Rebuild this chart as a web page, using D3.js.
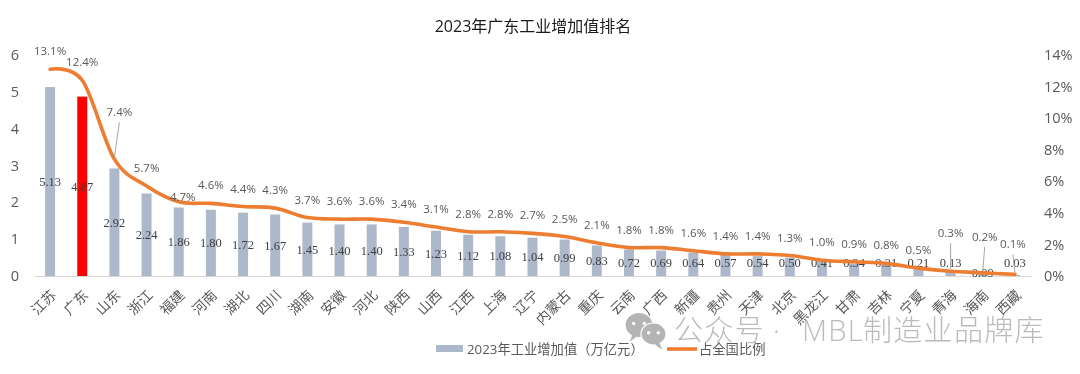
<!DOCTYPE html>
<html><head><meta charset="utf-8">
<script src="https://cdn.jsdelivr.net/npm/d3@7/dist/d3.min.js"></script>
<style>html,body{margin:0;padding:0;background:#fff}svg{display:block;filter:blur(0.35px)}
text{font-family:"Open Sans","Noto Sans CJK SC",sans-serif}</style></head>
<body><div id="c"></div>
<script>
const provinces=["江苏","广东","山东","浙江","福建","河南","湖北","四川","湖南","安徽","河北","陕西","山西","江西","上海","辽宁","内蒙古","重庆","云南","广西","新疆","贵州","天津","北京","黑龙江","甘肃","吉林","宁夏","青海","海南","西藏"];
const addedValue=[5.13,4.87,2.92,2.24,1.86,1.80,1.72,1.67,1.45,1.40,1.40,1.33,1.23,1.12,1.08,1.04,0.99,0.83,0.72,0.69,0.64,0.57,0.54,0.50,0.41,0.34,0.31,0.21,0.13,0.09,0.03];
const sharePct=[13.1,12.4,7.4,5.7,4.7,4.6,4.4,4.3,3.7,3.6,3.6,3.4,3.1,2.8,2.8,2.7,2.5,2.1,1.8,1.8,1.6,1.4,1.4,1.3,1.0,0.9,0.8,0.5,0.3,0.2,0.1];
const leftTicks=[0,1,2,3,4,5,6];
const rightTicks=[0,2,4,6,8,10,12,14];
const highlight="广东";
const shareNudges=new Map([["江苏",[0,-18]],["山东",[5,-47]],["福建",[4,-5]],["青海",[0,-38]],["海南",[2,-36]],["西藏",[-2,-30]]]);
const leaders=["山东","青海","海南","西藏"];

const W=1080,H=374;
const svg=d3.select("#c").append("svg").attr("width",W).attr("height",H);
const x=d3.scaleBand().domain(provinces).range([34,1031]);
const yL=d3.scaleLinear().domain([0,6]).range([276,55]);
const yR=d3.scaleLinear().domain([0,14]).range([276,55]);
const grey="#595959";

svg.append("text").attr("x",533).attr("y",32).attr("text-anchor","middle").attr("font-size",16).attr("fill","#1a1a1a").text("2023年广东工业增加值排名");

const axL=svg.append("g").attr("transform","translate(19,0)").call(d3.axisLeft(yL).tickValues(leftTicks).tickSize(0).tickPadding(0).tickFormat(d3.format("d")));
const axR=svg.append("g").attr("transform","translate(1044,0)").call(d3.axisRight(yR).tickValues(rightTicks).tickSize(0).tickPadding(0).tickFormat(d=>d+"%"));
[axL,axR].forEach(a=>{a.select(".domain").remove();a.selectAll("text").attr("fill",grey).attr("font-size",14.5).attr("font-family","'Open Sans',sans-serif");});

const bw=10;
svg.append("g").selectAll("rect").data(provinces).join("rect")
 .attr("x",d=>x(d)+x.bandwidth()/2-bw/2)
 .attr("width",bw)
 .attr("y",(d,i)=>yL(addedValue[i]))
 .attr("height",(d,i)=>yL(0)-yL(addedValue[i]))
 .attr("fill",d=>d===highlight?"#ff0000":"#adb9ca");

const axB=svg.append("g").attr("transform","translate(0,276)").call(d3.axisBottom(x).tickSize(0).tickPadding(0));
axB.select(".domain").attr("stroke","#d9d9d9").attr("stroke-width",1);
axB.selectAll("text").attr("fill",grey).attr("font-size",14).attr("font-family","'Noto Sans CJK SC',sans-serif")
 .attr("text-anchor","end").attr("dy",0)
 .attr("transform","translate(7,20) rotate(-45)");

const cx=d=>x(d)+x.bandwidth()/2;

svg.append("g").selectAll("text").data(provinces).join("text")
 .attr("x",cx)
 .attr("y",(d,i)=>d==="海南"?yL(0)-3:Math.min((yL(addedValue[i])+yL(0))/2,263))
 .attr("dy","0.35em").attr("text-anchor","middle").attr("font-size",12.5)
 .style("font-family","'Liberation Serif',serif").attr("fill","#404040")
 .text((d,i)=>addedValue[i].toFixed(2));

const line=d3.line().x(d=>cx(d)).y((d,i)=>yR(sharePct[i])).curve(d3.curveCatmullRom.alpha(0));
svg.append("path").datum(provinces).attr("d",line).attr("fill","none").attr("stroke","#ed7d31").attr("stroke-width",3.6).attr("stroke-linecap","round");

const nudge=d=>shareNudges.get(d)||[0,-18];
svg.append("g").selectAll("line").data(leaders).join("line")
 .attr("x1",d=>cx(d)+nudge(d)[0]).attr("y1",d=>yR(sharePct[provinces.indexOf(d)])+nudge(d)[1]+10)
 .attr("x2",d=>cx(d)).attr("y2",d=>yR(sharePct[provinces.indexOf(d)])-2)
 .attr("stroke","#a6a6a6").attr("stroke-width",1);

svg.append("g").selectAll("text").data(provinces).join("text")
 .attr("x",d=>cx(d)+nudge(d)[0]).attr("y",(d,i)=>yR(sharePct[i])+nudge(d)[1])
 .attr("dy","0.35em").attr("text-anchor","middle").attr("font-size",11.5).attr("fill",grey)
 .text((d,i)=>sharePct[i].toFixed(1)+"%");

const lg=svg.append("g");
lg.append("rect").attr("x",436).attr("y",345).attr("width",27).attr("height",7).attr("fill","#adb9ca");
lg.append("text").attr("x",467).attr("y",354).attr("font-size",13.3).attr("fill",grey).text("2023年工业增加值（万亿元）");
lg.append("line").attr("x1",667).attr("x2",697).attr("y1",349).attr("y2",349).attr("stroke","#ed7d31").attr("stroke-width",3.6);
lg.append("text").attr("x",699).attr("y",354).attr("font-size",13.3).attr("fill",grey).text("占全国比例");

const wm=svg.append("g");
const bubble=(cx0,cy0,rx,ry,tx)=>{
 wm.append("ellipse").attr("cx",cx0).attr("cy",cy0).attr("rx",rx).attr("ry",ry).attr("fill","#b4b4b4").attr("stroke","#fff").attr("stroke-width",1.2);
 wm.append("path").attr("d",`M${cx0+tx*rx*0.45},${cy0+ry*0.7} l${tx*3},8 l${-tx*7},-5 z`).attr("fill","#b4b4b4");
 [-0.38,0.38].forEach(o=>wm.append("circle").attr("cx",cx0+o*rx).attr("cy",cy0-ry*0.12).attr("r",1.7).attr("fill","#fff"));
};
bubble(639,325,14,12.5,-1);
bubble(653.5,334,12.5,11,1);
const wt=wm.append("text").attr("y",341).attr("font-size",29).attr("letter-spacing",1.3).attr("font-weight",300).attr("fill","#b4b4b4").attr("fill-opacity",0.9);
[[674,"公众号"],[773,"·"],[802,"MBL"],[863,"制造业品牌库"]].forEach(([px,s])=>wt.append("tspan").attr("x",px).text(s));
</script></body></html>
